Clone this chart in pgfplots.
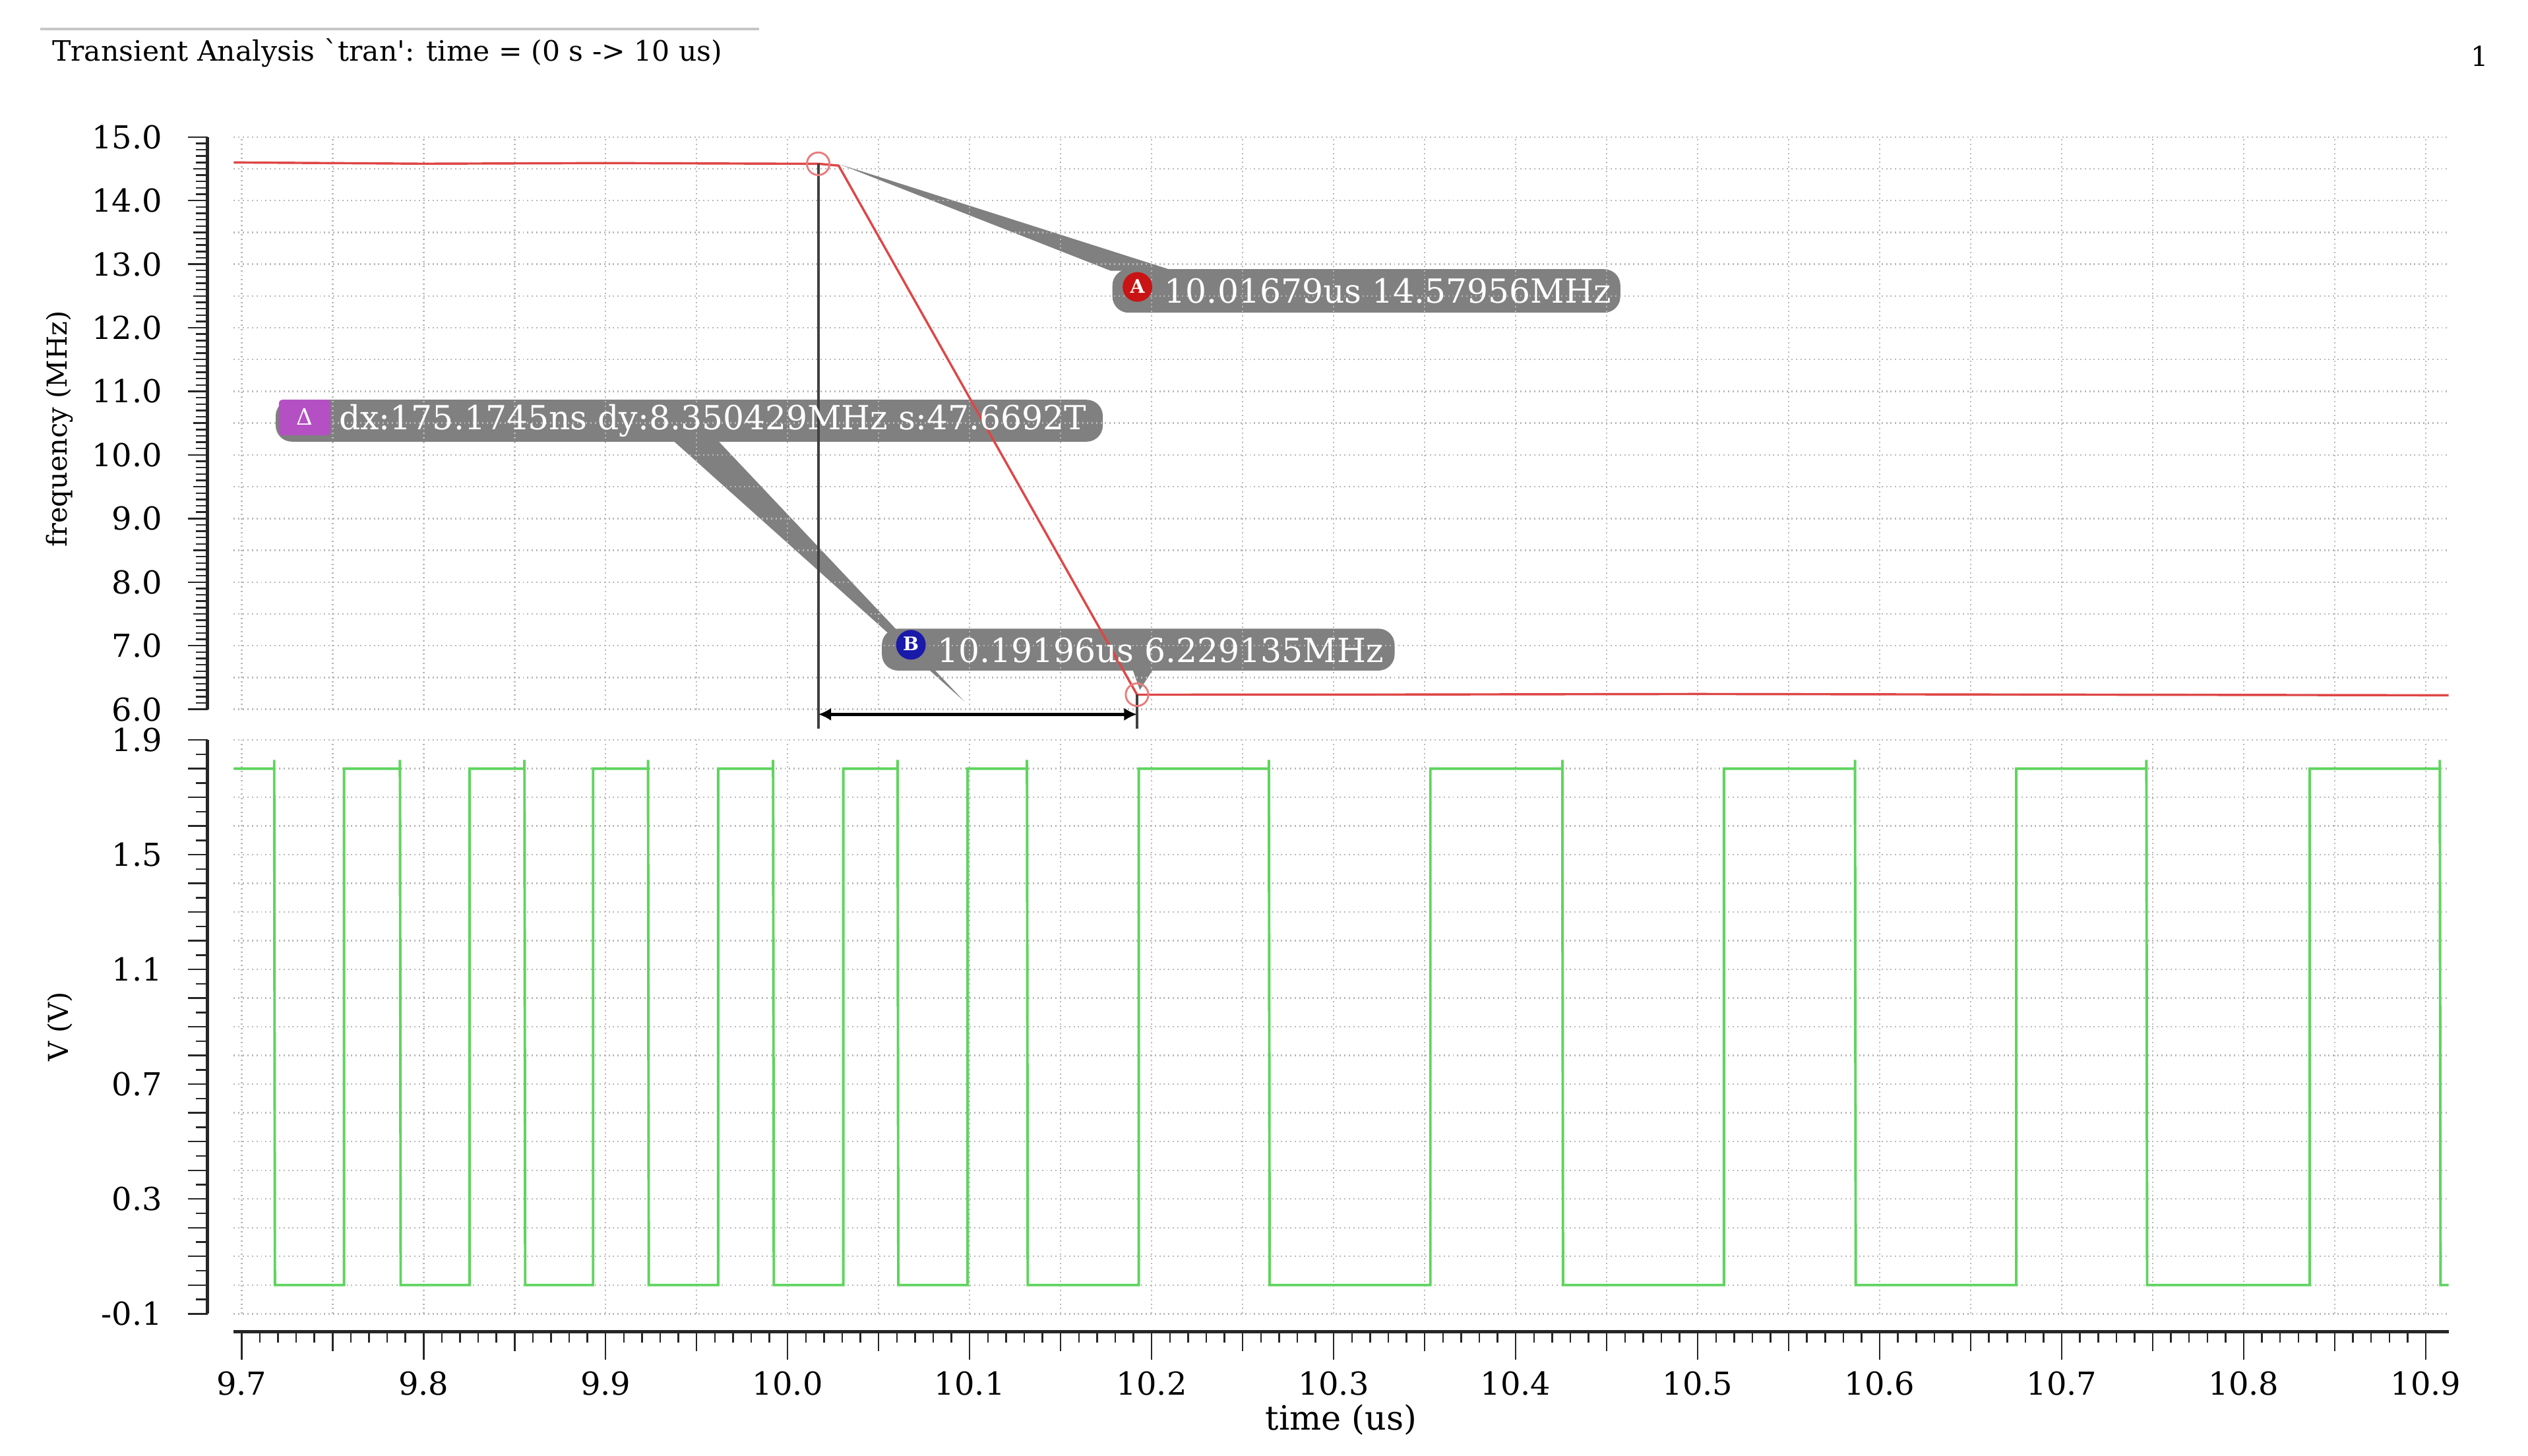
\documentclass[border=0pt]{standalone}
\usepackage{fontspec}
\setmainfont{DejaVu Serif}[Ligatures=TeXOff]
\usepackage{pgfplots}
\pgfplotsset{compat=1.18}
\usetikzlibrary{arrows.meta}

\definecolor{wavered}{RGB}{222,70,70}
\definecolor{wavegreen}{RGB}{95,212,95}
\definecolor{boxgray}{RGB}{128,128,128}
\definecolor{markA}{RGB}{200,20,20}
\definecolor{markB}{RGB}{25,25,170}
\definecolor{markD}{RGB}{180,80,195}

\newcommand\tickfont{\fontsize{9.8}{11}\selectfont}
\newcommand\notefont{\fontsize{10.3}{12}\selectfont}

\pgfplotsset{
  panel/.style={
    scale only axis, width=686.85pt,
    xmin=9.6957, xmax=10.9125,
    axis x line=bottom, axis y line=left,
    axis line style={-},
    x axis line style={draw=none},
    y axis line style={line width=1pt, black!85},
    axis y line shift=8.15pt,
    tick align=outside,
    xtick={9.7,9.75,9.8,9.85,9.9,9.95,10.0,10.05,10.1,10.15,10.2,10.25,10.3,
           10.35,10.4,10.45,10.5,10.55,10.6,10.65,10.7,10.75,10.8,10.85,10.9},
    xticklabels={}, xtick style={draw=none}, minor x tick num=0,
    ytick style={black!85, line width=0.5pt},
    major tick length=6pt, minor tick length=3.5pt,
    xmajorgrids, ymajorgrids,
    grid style={densely dotted, black!28, line width=0.5pt},
    yticklabel style={font=\tickfont, xshift=-4.5pt, /pgf/number format/.cd,
      fixed, fixed zerofill, precision=1, assume math mode=true},
    ylabel style={anchor=center, font=\fontsize{8.5}{10}\selectfont},
    clip=false,
  }
}

\begin{document}
\begin{tikzpicture}
\useasboundingbox (0,0) rectangle (784pt,-451.5pt);

% marker boxes and their pointers, under the curves
\begin{scope}[x=0.5pt,y=-0.5pt]
  \fill[boxgray] (521,102) -- (689,168) -- (728,168) -- cycle;
  \fill[boxgray] (598,435) -- (416,272) -- (444,272) -- cycle;
  \fill[boxgray] (707,428) -- (702,414) -- (716,414) -- cycle;
  \fill[boxgray, rounded corners=5pt] (690,167) rectangle (1005,194);
  \fill[boxgray, rounded corners=5pt] (171,248) rectangle (684,274);
  \fill[boxgray, rounded corners=5pt] (547,390) rectangle (865,416);
\end{scope}

% frequency
\begin{axis}[panel,
  at={(72.5pt,-42.5pt)}, anchor=north west, height=177.5pt,
  ymin=6, ymax=15, ytick={6,...,15}, minor y tick num=9,
  extra y ticks={6.5,7.5,8.5,9.5,10.5,11.5,12.5,13.5,14.5},
  extra y tick labels={},
  extra y tick style={grid=major, major tick length=4.5pt},
  ylabel={frequency (MHz)},
  ylabel style={at={(axis description cs:-0.0786,0.49)}},
]
\addplot[wavered, line width=0.7pt] coordinates {
  (9.6957,14.60) (9.80,14.58) (9.90,14.59) (10.00,14.58)
  (10.01679,14.57956) (10.028,14.55) (10.19196,6.229135)
  (10.30,6.23) (10.50,6.24) (10.70,6.23) (10.9125,6.22)
};
\addplot[only marks, mark=o, mark size=3.5pt, wavered!70, mark options={line width=0.6pt}]
  coordinates {(10.01679,14.57956) (10.19196,6.229135)};
\draw[black!75, line width=0.8pt] (axis cs:10.01679,14.57956) -- (axis cs:10.01679,5.70);
\draw[black!75, line width=0.8pt] (axis cs:10.19196,6.229135) -- (axis cs:10.19196,5.70);
\draw[black, line width=1pt, {Latex[length=4pt,width=4pt]}-{Latex[length=4pt,width=4pt]}]
  (axis cs:10.01679,5.92) -- (axis cs:10.19196,5.92);
\end{axis}

% voltage
\begin{axis}[panel,
  at={(72.5pt,-229.5pt)}, anchor=north west, height=178pt,
  ymin=-0.1, ymax=1.9, ytick={-0.1,0.3,0.7,1.1,1.5,1.9}, minor y tick num=7,
  extra y ticks={0,0.1,0.2,0.4,0.5,0.6,0.8,0.9,1.0,1.2,1.3,1.4,1.6,1.7,1.8},
  extra y tick labels={},
  extra y tick style={grid=major, major tick length=6pt},
  ylabel={V (V)},
  ylabel style={at={(axis description cs:-0.0786,0.5)}},
]
\addplot[wavegreen, line width=0.8pt] coordinates {
  (9.6957,1.80)
  (9.7179,1.80) (9.7179,1.83) (9.7183,0) (9.7563,0) (9.7563,1.80)
  (9.7870,1.80) (9.7870,1.83) (9.7874,0) (9.8252,0) (9.8252,1.80)
  (9.8554,1.80) (9.8554,1.83) (9.8558,0) (9.8931,0) (9.8931,1.80)
  (9.9233,1.80) (9.9233,1.83) (9.9237,0) (9.9618,0) (9.9618,1.80)
  (9.9920,1.80) (9.9920,1.83) (9.9924,0) (10.0306,0) (10.0306,1.80)
  (10.0604,1.80) (10.0604,1.83) (10.0608,0) (10.0989,0) (10.0989,1.80)
  (10.1315,1.80) (10.1315,1.83) (10.1319,0) (10.1929,0) (10.1929,1.80)
  (10.2644,1.80) (10.2644,1.83) (10.2648,0) (10.3531,0) (10.3531,1.80)
  (10.4256,1.80) (10.4256,1.83) (10.4260,0) (10.5144,0) (10.5144,1.80)
  (10.5864,1.80) (10.5864,1.83) (10.5868,0) (10.6750,0) (10.6750,1.80)
  (10.7465,1.80) (10.7465,1.83) (10.7469,0) (10.8362,0) (10.8362,1.80)
  (10.9077,1.80) (10.9077,1.83) (10.9081,0) (10.9125,0)
};
\end{axis}

% time axis
\begin{axis}[
  at={(72.5pt,-413pt)}, anchor=south west,
  scale only axis, width=686.85pt, height=1pt,
  xmin=9.6957, xmax=10.9125, ymin=0, ymax=1,
  axis x line=bottom, axis y line=none,
  axis line style={-, line width=1pt, black!85},
  tick align=outside,
  xtick={9.7,9.8,9.9,10.0,10.1,10.2,10.3,10.4,10.5,10.6,10.7,10.8,10.9},
  extra x ticks={9.75,9.85,9.95,10.05,10.15,10.25,10.35,10.45,10.55,10.65,10.75,10.85},
  extra x tick labels={},
  extra x tick style={major tick length=6pt},
  minor x tick num=9,
  major tick length=8.8pt, minor tick length=3.5pt,
  xtick style={black!85, line width=0.5pt},
  ytick=\empty,
  xticklabel style={font=\tickfont, /pgf/number format/.cd,
    fixed, fixed zerofill, precision=1, assume math mode=true},
  xlabel={time (us)},
  xlabel style={at={(axis description cs:0.5,0)}, anchor=center, yshift=-27.5pt,
    font=\fontsize{10.4}{12}\selectfont},
]
\end{axis}

% texts and badges on top
\begin{scope}[x=0.5pt,y=-0.5pt]
  \draw[black!22, line width=0.7pt] (25,18) -- (471,18);
  \node[anchor=west, inner sep=0pt, font=\fontsize{8.7}{10}\selectfont] at (32,33)
    {Transient Analysis `tran': time = (0 s -> 10 us)};
  \node[inner sep=0pt, font=\fontsize{8.5}{9}\selectfont] at (1538,35) {1};

  \fill[markA] (705.5,178) circle (4.6pt);
  \node[text=white, inner sep=0pt, font=\fontsize{5.8}{6}\selectfont\bfseries] at (705.5,177.5) {A};
  \node[anchor=west, inner sep=0pt, text=white, font=\notefont] at (722,180.5)
    {10.01679us 14.57956MHz};

  \fill[markD, rounded corners=1pt] (173,248) rectangle (205,270);
  \node[text=white, inner sep=0pt, font=\fontsize{7}{8}\selectfont] at (189,258.5) {Δ};
  \node[anchor=west, inner sep=0pt, text=white, font=\notefont] at (210,261)
    {dx:175.1745ns dy:8.350429MHz s:47.6692T};

  \fill[markB] (565,400) circle (4.6pt);
  \node[text=white, inner sep=0pt, font=\fontsize{5.8}{6}\selectfont\bfseries] at (565,399.5) {B};
  \node[anchor=west, inner sep=0pt, text=white, font=\notefont] at (581,403.5)
    {10.19196us 6.229135MHz};
\end{scope}
\end{tikzpicture}
\end{document}
